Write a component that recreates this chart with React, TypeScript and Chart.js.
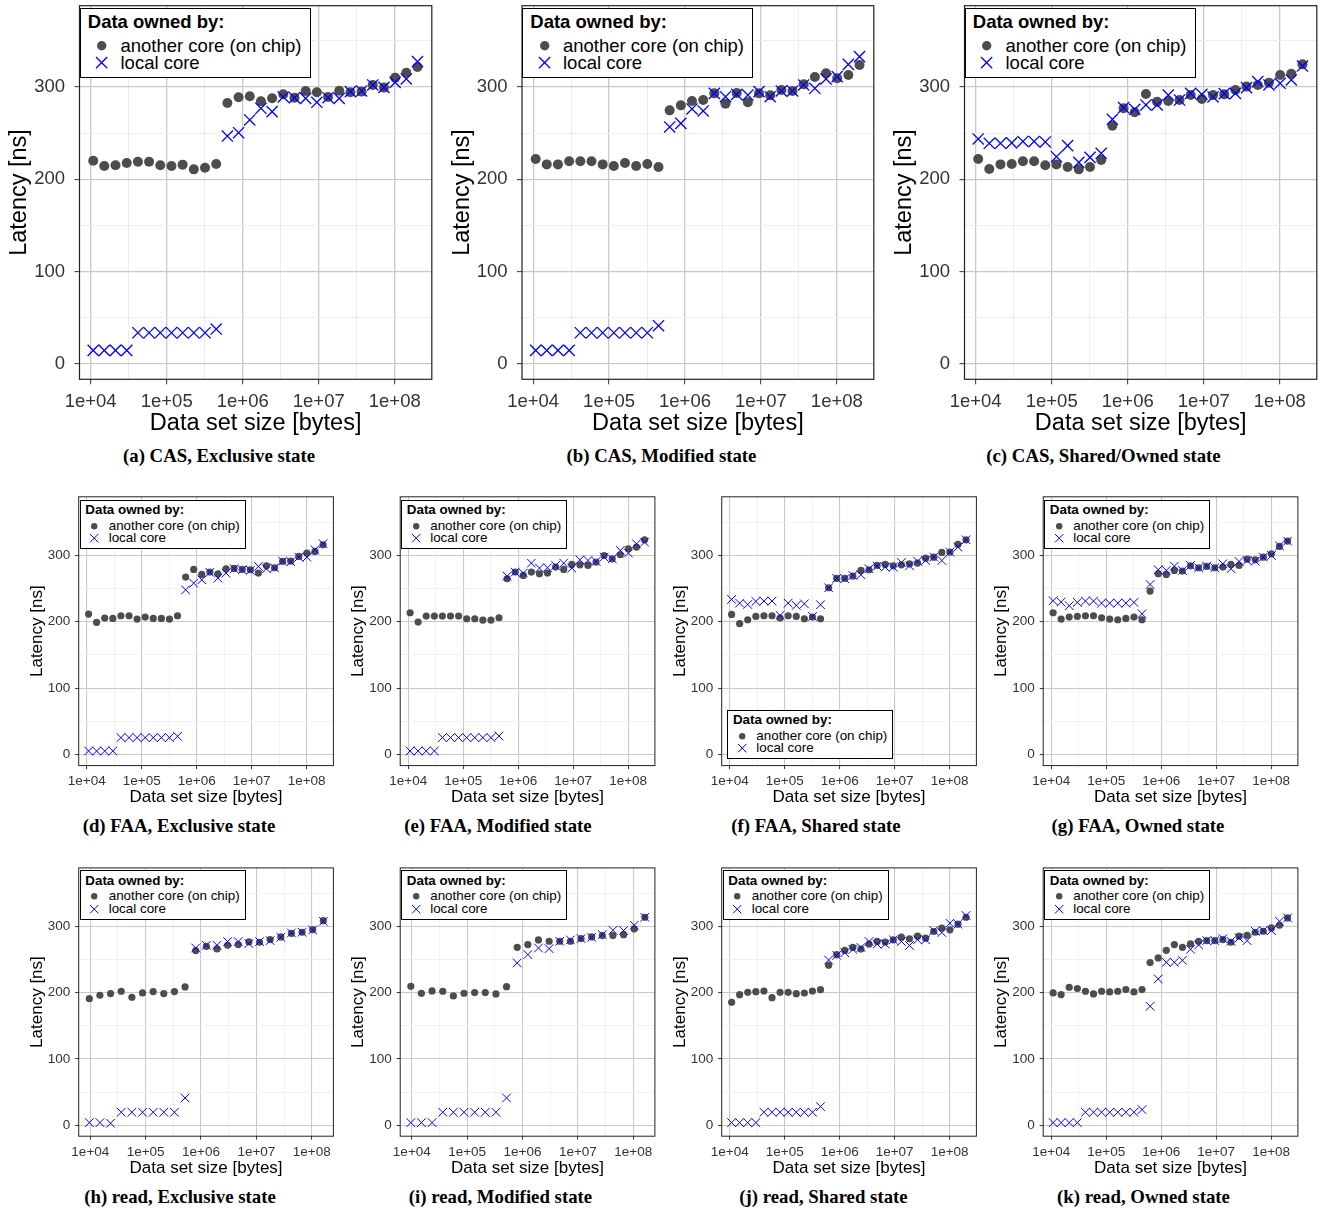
import React, { useEffect, useRef } from 'react';
import { Chart, registerables } from 'chart.js';

Chart.register(...registerables);

const FONT = "'Liberation Sans', Arial, Helvetica, sans-serif";
const SERIF = "'Liberation Serif', 'Times New Roman', serif";

// ---------------- data ----------------
// data set sizes (bytes), x positions read from the log axis
const sizes30 = [10800, 15100, 21200, 29800, 41800, 58700, 82300, 115500, 162100, 227400, 319200, 447800, 628300, 881700, 1237000, 1736000, 2435000, 3417000, 4795000, 6728000, 9441000, 13250000, 18590000, 26080000, 36590000, 51350000, 72050000, 101100000, 141800000, 199000000];
const sizes23 = [9600, 14900, 23200, 36200, 56300, 87700, 136500, 212500, 330800, 515000, 801700, 1248000, 1943000, 3024000, 4708000, 7328000, 11410000, 17760000, 27640000, 43030000, 66990000, 104300000, 162300000];

// (a) CAS, Exclusive
const casExclusiveOther = [220.2, 214.4, 215.2, 217.7, 219.1, 219.1, 215.2, 214.4, 215.9, 210.8, 212.6, 216.6, 282.7, 288.8, 289.9, 284.5, 287.7, 292.1, 288.4, 295.7, 294.2, 289.2, 296.0, 294.2, 295.0, 302.2, 299.3, 310.1, 315.5, 321.7];
const casExclusiveLocal = [14.8, 14.8, 14.8, 14.8, 33.9, 33.9, 33.9, 33.9, 33.9, 33.9, 33.9, 37.9, 246.9, 250.5, 264.3, 276.9, 273.3, 289.2, 288.4, 287.7, 283.4, 288.4, 287.7, 295.0, 295.7, 302.2, 299.6, 305.0, 308.7, 327.4];
// (b) CAS, Modified
const casModifiedOther = [222.0, 216.2, 216.2, 219.5, 219.5, 219.5, 216.2, 214.4, 217.7, 214.4, 216.6, 213.4, 274.7, 280.1, 284.8, 285.9, 293.1, 281.9, 293.5, 283.4, 293.1, 291.0, 296.8, 295.7, 302.9, 310.8, 314.8, 309.4, 313.0, 323.8];
const casModifiedLocal = [14.8, 14.8, 14.8, 14.8, 33.9, 33.9, 33.9, 33.9, 33.9, 33.9, 33.9, 41.5, 256.7, 260.6, 276.2, 274.0, 293.1, 289.5, 292.0, 291.3, 295.0, 289.5, 295.7, 295.7, 302.2, 298.6, 308.7, 311.2, 324.5, 332.9];
// (c) CAS, Shared/Owned
const casSharedOther = [222.0, 211.2, 216.2, 216.6, 219.5, 219.5, 215.2, 216.2, 213.4, 210.8, 213.4, 220.9, 258.1, 276.9, 272.6, 292.4, 284.1, 284.8, 285.9, 291.3, 287.0, 291.3, 292.0, 296.8, 300.4, 302.2, 304.7, 313.0, 314.4, 324.5];
const casSharedLocal = [243.7, 239.0, 239.0, 239.5, 241.0, 241.0, 240.5, 224.5, 236.5, 218.4, 223.8, 228.2, 265.0, 277.6, 275.8, 280.5, 280.5, 291.3, 285.9, 293.1, 292.0, 289.2, 292.8, 293.1, 299.3, 305.8, 302.2, 304.0, 307.6, 322.7];
// (d) FAA, Exclusive
const faaExclusiveOther = [211.5, 199.0, 205.5, 205.0, 209.0, 209.0, 204.0, 207.0, 205.0, 205.0, 204.0, 209.0, 267.2, 278.7, 271.2, 274.7, 272.2, 279.7, 280.2, 278.7, 278.2, 273.2, 284.2, 281.2, 290.7, 291.2, 298.2, 303.3, 305.8, 315.8];
const faaExclusiveLocal = [5.5, 5.5, 5.5, 5.5, 25.6, 25.6, 25.6, 25.6, 25.6, 25.6, 25.6, 27.6, 248.0, 258.0, 263.0, 274.2, 265.7, 273.2, 279.7, 278.2, 277.2, 283.2, 279.7, 281.2, 291.2, 290.2, 297.2, 297.2, 308.3, 317.3];
// (e) FAA, Modified
const faaModifiedOther = [213.5, 199.5, 208.5, 208.5, 208.5, 208.5, 208.5, 204.5, 204.5, 202.5, 202.5, 206.0, 264.7, 274.7, 269.7, 274.7, 272.2, 273.2, 282.2, 278.7, 286.2, 285.7, 284.7, 289.7, 299.7, 294.7, 300.8, 309.8, 312.3, 323.3];
const faaModifiedLocal = [5.5, 5.5, 5.5, 5.5, 25.6, 25.6, 25.6, 25.6, 25.6, 25.6, 25.6, 28.0, 268.7, 274.7, 273.2, 288.2, 280.7, 281.2, 284.7, 288.2, 280.7, 293.2, 292.2, 290.7, 297.2, 294.7, 307.3, 303.3, 317.3, 319.8];
// (f) FAA, Shared
const faaSharedOther = [211.0, 197.0, 203.0, 208.0, 209.0, 209.0, 205.5, 209.0, 208.0, 204.5, 207.0, 204.5, 251.1, 265.2, 265.2, 268.7, 277.2, 278.2, 284.7, 286.2, 284.2, 285.7, 287.2, 288.2, 295.7, 297.2, 304.3, 304.8, 316.3, 323.3];
const faaSharedLocal = [233.6, 228.0, 226.0, 230.6, 231.1, 231.1, 209.5, 228.0, 224.6, 227.0, 208.0, 225.6, 251.1, 265.2, 264.7, 269.7, 270.7, 279.7, 283.7, 282.2, 282.2, 289.2, 284.2, 291.2, 292.2, 297.2, 292.2, 304.8, 312.3, 323.3];
// (g) FAA, Owned
const faaOwnedOther = [213.5, 204.0, 207.0, 208.0, 209.0, 209.0, 206.0, 204.0, 203.0, 205.0, 207.0, 203.0, 246.1, 272.2, 271.2, 277.2, 276.2, 284.2, 281.2, 283.2, 281.2, 282.2, 286.2, 284.7, 294.2, 293.2, 297.2, 302.3, 313.3, 321.3];
const faaOwnedLocal = [231.6, 229.6, 224.1, 229.1, 231.1, 231.1, 228.0, 228.0, 228.0, 228.0, 229.1, 212.0, 256.1, 278.2, 277.2, 283.7, 277.2, 284.7, 281.2, 283.7, 281.2, 287.2, 279.7, 290.7, 292.2, 291.2, 297.2, 299.7, 314.3, 321.3];
// (h) read, Exclusive
const readExclusiveOther = [190.9, 196.0, 198.5, 202.0, 193.0, 199.5, 201.5, 198.5, 201.5, 208.5, 263.3, 269.8, 265.8, 271.4, 272.4, 276.4, 275.9, 279.9, 284.0, 289.4, 291.0, 295.0, 308.5];
const readExclusiveLocal = [4.0, 4.0, 3.0, 19.6, 19.6, 19.6, 19.6, 19.6, 19.6, 41.2, 267.3, 271.4, 271.4, 276.9, 276.9, 273.9, 276.9, 278.4, 283.4, 289.9, 291.0, 294.5, 307.5];
// (i) read, Modified
const readModifiedOther = [209.5, 199.0, 202.5, 202.0, 195.0, 199.0, 200.0, 200.0, 198.0, 209.0, 268.3, 272.4, 279.4, 277.4, 277.4, 277.4, 281.4, 284.0, 286.0, 286.0, 287.4, 296.0, 313.6];
const readModifiedLocal = [4.0, 4.0, 4.0, 19.6, 19.6, 19.6, 19.6, 19.6, 19.6, 41.2, 244.7, 257.3, 267.3, 266.3, 277.4, 279.4, 281.4, 283.4, 287.4, 294.0, 293.5, 301.5, 313.6];
// (j) read, Shared
const readSharedOther = [185.4, 196.9, 200.4, 201.4, 202.4, 192.4, 200.4, 200.4, 198.4, 199.4, 202.4, 204.4, 241.1, 257.1, 263.6, 268.1, 265.6, 273.1, 277.1, 276.1, 279.6, 283.6, 281.1, 285.1, 282.1, 292.1, 297.1, 294.6, 303.1, 313.6];
const readSharedLocal = [4.0, 4.0, 4.0, 4.0, 19.6, 19.6, 19.6, 19.6, 19.6, 19.6, 19.6, 28.1, 249.1, 256.1, 260.1, 265.1, 268.1, 277.1, 273.1, 273.1, 279.6, 277.1, 271.1, 279.6, 279.6, 293.6, 290.6, 304.6, 303.1, 316.1];
// (k) read, Owned
const readOwnedOther = [199.5, 197.0, 208.1, 206.1, 202.0, 198.0, 202.0, 201.0, 202.0, 204.5, 201.0, 204.5, 245.2, 252.3, 263.8, 272.4, 268.3, 273.4, 277.4, 278.4, 278.4, 279.9, 275.9, 285.0, 286.4, 291.0, 292.5, 297.5, 301.5, 312.6];
const readOwnedLocal = [4.0, 4.0, 4.0, 4.0, 19.6, 19.6, 19.6, 19.6, 19.6, 19.6, 19.6, 23.6, 179.4, 220.6, 245.7, 245.7, 248.7, 265.3, 271.9, 278.4, 278.4, 281.4, 277.4, 282.4, 278.4, 292.5, 293.5, 293.5, 307.5, 312.6];

const seriesNames = ['another core (on chip)', 'local core'];
const legendTitle = 'Data owned by:';
const xTitle = 'Data set size [bytes]';
const yTitle = 'Latency [ns]';
const xMajorTicks = [1e4, 1e5, 1e6, 1e7, 1e8];
const xTickLabels = ['1e+04', '1e+05', '1e+06', '1e+07', '1e+08'];
const xMinorTicks = [3162, 31623, 316228, 3162278, 31622777, 316227766];
const yMajorTicks = [0, 100, 200, 300];
const yTickLabels = ['0', '100', '200', '300'];
const yMinorTicks = [50, 150, 250, 350];
const yRange = [-16.5, 388];

// ---------------- styles ----------------
type LegendStyle = {
  w: number; h: number; font: number; titleX: number; titleY: number; item1Y: number; item2Y: number;
  symX: number; textX: number; circleR: number; crossHalf: number; crossW: number; border: number;
};
type RowStyle = {
  tickFont: number; titleFont: number; tickLen: number; yTickPad: number; xTickPad: number;
  circleR: number; crossR: number; crossW: number; gridMajorW: number; gridMinorW: number; frameW: number;
  lg: LegendStyle;
};

const TOP: RowStyle = {
  tickFont: 18.5, titleFont: 23.5, tickLen: 5, yTickPad: 9.5, xTickPad: 7,
  circleR: 5, crossR: 7.9, crossW: 1.3, gridMajorW: 1.3, gridMinorW: 1, frameW: 1.2,
  lg: { w: 231, h: 69.4, font: 18.5, titleX: 8.3, titleY: 14, item1Y: 37.7, item2Y: 55, symX: 22.3, textX: 41, circleR: 4.7, crossHalf: 5.6, crossW: 1.3, border: 1.2 },
};
const SMALL: RowStyle = {
  tickFont: 13.5, titleFont: 17, tickLen: 3.5, yTickPad: 5, xTickPad: 4,
  circleR: 3.6, crossR: 6.1, crossW: 1, gridMajorW: 1.1, gridMinorW: 0.8, frameW: 1,
  lg: { w: 166, h: 49.6, font: 13.4, titleX: 5.6, titleY: 10.8, item1Y: 26.2, item2Y: 38.5, symX: 15, textX: 29, circleR: 3.2, crossHalf: 4.2, crossW: 1, border: 1 },
};

type Panel = {
  key: string; caption: string; sizes: number[]; other: number[]; local: number[];
  xMinLog: number; xMaxLog: number; st: RowStyle;
  plotL: number; plotT: number; plotW: number; plotH: number;
  yTitleX: number; xTitleY: number; capX: number; capY: number;
  legDX: number; legDY: number;
};

const X30 = [3.853, 8.487];
const X23 = [3.790, 8.392];

const topBase = { st: TOP, plotT: 5.7, plotW: 353, plotH: 373.6, xTitleY: 424, capY: 456, legDX: 0.2, legDY: 2.6, xMinLog: X30[0], xMaxLog: X30[1], sizes: sizes30 };
const midBase = { st: SMALL, plotT: 496.8, plotW: 254.7, plotH: 268.8, xTitleY: 797.5, capY: 826, legDX: 1, legDY: 2.9 };
const botBase = { st: SMALL, plotT: 867.9, plotW: 254.7, plotH: 268.3, xTitleY: 1168, capY: 1197, legDX: 1, legDY: 2.4 };

const panels: Panel[] = [
  { ...topBase, key: 'a', caption: '(a) CAS, Exclusive state', other: casExclusiveOther, local: casExclusiveLocal, plotL: 79.5, yTitleX: 20, capX: 219 },
  { ...topBase, key: 'b', caption: '(b) CAS, Modified state', other: casModifiedOther, local: casModifiedLocal, plotL: 522, yTitleX: 462.5, capX: 661.5 },
  { ...topBase, key: 'c', caption: '(c) CAS, Shared/Owned state', other: casSharedOther, local: casSharedLocal, plotL: 964.5, yTitleX: 905, capX: 1103.5 },
  { ...midBase, key: 'd', caption: '(d) FAA, Exclusive state', other: faaExclusiveOther, local: faaExclusiveLocal, sizes: sizes30, xMinLog: X30[0], xMaxLog: X30[1], plotL: 78.7, yTitleX: 37, capX: 179 },
  { ...midBase, key: 'e', caption: '(e) FAA, Modified state', other: faaModifiedOther, local: faaModifiedLocal, sizes: sizes30, xMinLog: X30[0], xMaxLog: X30[1], plotL: 400.2, yTitleX: 358.5, capX: 498 },
  { ...midBase, key: 'f', caption: '(f) FAA, Shared state', other: faaSharedOther, local: faaSharedLocal, sizes: sizes30, xMinLog: X30[0], xMaxLog: X30[1], plotL: 721.7, yTitleX: 680, capX: 816, legDX: 5.6, legDY: 212.9 },
  { ...midBase, key: 'g', caption: '(g) FAA, Owned state', other: faaOwnedOther, local: faaOwnedLocal, sizes: sizes30, xMinLog: X30[0], xMaxLog: X30[1], plotL: 1043.2, yTitleX: 1001.5, capX: 1138 },
  { ...botBase, key: 'h', caption: '(h) read, Exclusive state', other: readExclusiveOther, local: readExclusiveLocal, sizes: sizes23, xMinLog: X23[0], xMaxLog: X23[1], plotL: 78.7, yTitleX: 37, capX: 180 },
  { ...botBase, key: 'i', caption: '(i) read, Modified state', other: readModifiedOther, local: readModifiedLocal, sizes: sizes23, xMinLog: X23[0], xMaxLog: X23[1], plotL: 400.2, yTitleX: 358.5, capX: 500.5 },
  { ...botBase, key: 'j', caption: '(j) read, Shared state', other: readSharedOther, local: readSharedLocal, sizes: sizes30, xMinLog: X30[0], xMaxLog: X30[1], plotL: 721.7, yTitleX: 680, capX: 823.5 },
  { ...botBase, key: 'k', caption: '(k) read, Owned state', other: readOwnedOther, local: readOwnedLocal, sizes: sizes30, xMinLog: X30[0], xMaxLog: X30[1], plotL: 1043.2, yTitleX: 1001.5, capX: 1143.5 },
];

const GRID_MAJOR = '#c9c9c9';
const GRID_MINOR = '#ededed';
const TICK_COLOR = '#333333';
const CIRCLE_COLOR = '#4d4d4d';
const CROSS_COLOR = '#0000ff';

const framePlugin = {
  id: 'frame',
  afterDatasetsDraw(chart: any, _args: any, opts: any) {
    const { ctx, chartArea } = chart;
    ctx.save();
    ctx.strokeStyle = opts.color || '#222';
    ctx.lineWidth = opts.width || 1;
    ctx.strokeRect(chartArea.left, chartArea.top, chartArea.right - chartArea.left, chartArea.bottom - chartArea.top);
    ctx.restore();
  },
};

const isMajorX = (v: number) => xMajorTicks.indexOf(v) >= 0;
const isMajorY = (v: number) => yMajorTicks.indexOf(v) >= 0;

function PanelChart({ p }: { p: Panel }) {
  const ref = useRef<HTMLCanvasElement>(null);
  const st = p.st;
  const lh = st.titleFont * 1.2;
  const yTitleLeft = p.yTitleX - lh / 2;
  const cLeft = Math.floor(yTitleLeft);
  const padLeft = yTitleLeft - cLeft;
  const cTop = Math.floor(p.plotT) - 25;
  const padTop = p.plotT - cTop;
  const plotR = p.plotL + p.plotW;
  const plotB = p.plotT + p.plotH;
  const cRight = Math.ceil(plotR) + 8;
  const padRight = cRight - plotR;
  const xTitleBottom = p.xTitleY + lh / 2;
  const cBottom = Math.ceil(xTitleBottom);
  const padBottom = cBottom - xTitleBottom;
  const yW = p.plotL - cLeft - padLeft;
  const xH = xTitleBottom - plotB;
  const cw = cRight - cLeft;
  const ch = cBottom - cTop;

  useEffect(() => {
    if (!ref.current) return;
    const xMin = Math.pow(10, p.xMinLog);
    const xMax = Math.pow(10, p.xMaxLog);
    const xTicks = [...xMajorTicks, ...xMinorTicks].filter((v) => v >= xMin && v <= xMax).sort((a, b) => a - b);
    const yTicks = [...yMajorTicks, ...yMinorTicks].filter((v) => v >= yRange[0] && v <= yRange[1]).sort((a, b) => a - b);
    const chart = new Chart(ref.current, {
      type: 'scatter',
      data: {
        datasets: [
          {
            label: seriesNames[1],
            data: p.sizes.map((x, i) => ({ x, y: p.local[i] })),
            pointStyle: 'crossRot',
            pointRadius: st.crossR,
            borderColor: CROSS_COLOR,
            backgroundColor: CROSS_COLOR,
            borderWidth: st.crossW,
            order: 0,
          },
          {
            label: seriesNames[0],
            data: p.sizes.map((x, i) => ({ x, y: p.other[i] })),
            pointStyle: 'circle',
            pointRadius: st.circleR,
            backgroundColor: CIRCLE_COLOR,
            borderWidth: 0,
            order: 1,
          },
        ],
      },
      options: {
        responsive: false,
        animation: false,
        devicePixelRatio: 1,
        events: [],
        layout: { padding: { left: padLeft, top: padTop, right: padRight, bottom: padBottom } },
        plugins: {
          legend: { display: false },
          tooltip: { enabled: false },
          frame: { width: st.frameW, color: '#222222' },
        } as any,
        scales: {
          x: {
            type: 'logarithmic',
            bounds: 'data',
            min: xMin,
            max: xMax,
            afterBuildTicks: (s: any) => { s.ticks = xTicks.map((v) => ({ value: v })); },
            afterFit: (s: any) => { s.height = xH; },
            ticks: {
              autoSkip: false, maxRotation: 0, minRotation: 0,
              padding: st.xTickPad,
              font: { size: st.tickFont, family: FONT },
              color: TICK_COLOR,
              callback: (v: any) => { const i = xMajorTicks.indexOf(Number(v)); return i >= 0 ? xTickLabels[i] : ''; },
            },
            grid: {
              color: (c: any) => (c.tick && isMajorX(c.tick.value) ? GRID_MAJOR : GRID_MINOR),
              lineWidth: (c: any) => (c.tick && isMajorX(c.tick.value) ? st.gridMajorW : st.gridMinorW),
              tickColor: (c: any) => (c.tick && isMajorX(c.tick.value) ? TICK_COLOR : 'rgba(0,0,0,0)'),
              tickWidth: 1,
              tickLength: st.tickLen,
              drawTicks: true,
            },
            border: { display: false },
            title: { display: true, text: xTitle, color: '#000', font: { size: st.titleFont, family: FONT }, padding: 0 },
          } as any,
          y: {
            type: 'linear',
            bounds: 'data',
            min: yRange[0],
            max: yRange[1],
            afterBuildTicks: (s: any) => { s.ticks = yTicks.map((v) => ({ value: v })); },
            afterFit: (s: any) => { s.width = yW; },
            ticks: {
              autoSkip: false,
              padding: st.yTickPad,
              font: { size: st.tickFont, family: FONT },
              color: TICK_COLOR,
              callback: (v: any) => { const i = yMajorTicks.indexOf(Number(v)); return i >= 0 ? yTickLabels[i] : ''; },
            },
            grid: {
              color: (c: any) => (c.tick && isMajorY(c.tick.value) ? GRID_MAJOR : GRID_MINOR),
              lineWidth: (c: any) => (c.tick && isMajorY(c.tick.value) ? st.gridMajorW : st.gridMinorW),
              tickColor: (c: any) => (c.tick && isMajorY(c.tick.value) ? TICK_COLOR : 'rgba(0,0,0,0)'),
              tickWidth: 1,
              tickLength: st.tickLen,
              drawTicks: true,
            },
            border: { display: false },
            title: { display: true, text: yTitle, color: '#000', font: { size: st.titleFont, family: FONT }, padding: 0 },
          } as any,
        },
      },
      plugins: [framePlugin as any],
    });
    return () => chart.destroy();
  }, []);

  return (
    <canvas
      ref={ref}
      width={cw}
      height={ch}
      style={{ position: 'absolute', left: cLeft, top: cTop, width: cw, height: ch }}
    />
  );
}

function Legend({ p }: { p: Panel }) {
  const L = p.st.lg;
  const b = L.border;
  const lh = L.font * 1.2;
  const r = L.circleR;
  const h = L.crossHalf;
  return (
    <div
      style={{
        position: 'absolute', left: p.plotL + p.legDX, top: p.plotT + p.legDY, width: L.w, height: L.h,
        border: `${b}px solid #000`, boxSizing: 'border-box', background: '#fff', fontFamily: FONT, color: '#000',
      }}
    >
      <div style={{ position: 'absolute', left: L.titleX - b, top: L.titleY - lh / 2 - b, fontSize: L.font, lineHeight: `${lh}px`, fontWeight: 'bold', whiteSpace: 'nowrap' }}>{legendTitle}</div>
      <svg width={2 * r + 2} height={2 * r + 2} style={{ position: 'absolute', left: L.symX - r - 1 - b, top: L.item1Y - r - 1 - b }}>
        <circle cx={r + 1} cy={r + 1} r={r} fill={CIRCLE_COLOR} />
      </svg>
      <div style={{ position: 'absolute', left: L.textX - b, top: L.item1Y - lh / 2 - b, fontSize: L.font, lineHeight: `${lh}px`, whiteSpace: 'nowrap' }}>{seriesNames[0]}</div>
      <svg width={2 * h + 2} height={2 * h + 2} style={{ position: 'absolute', left: L.symX - h - 1 - b, top: L.item2Y - h - 1 - b }}>
        <line x1={1} y1={1} x2={2 * h + 1} y2={2 * h + 1} stroke={CROSS_COLOR} strokeWidth={L.crossW} />
        <line x1={2 * h + 1} y1={1} x2={1} y2={2 * h + 1} stroke={CROSS_COLOR} strokeWidth={L.crossW} />
      </svg>
      <div style={{ position: 'absolute', left: L.textX - b, top: L.item2Y - lh / 2 - b, fontSize: L.font, lineHeight: `${lh}px`, whiteSpace: 'nowrap' }}>{seriesNames[1]}</div>
    </div>
  );
}

function Caption({ p }: { p: Panel }) {
  const fs = 18.8;
  const lh = fs * 1.2;
  return (
    <div
      style={{
        position: 'absolute', left: p.capX - 200, top: p.capY - lh / 2, width: 400, textAlign: 'center',
        fontFamily: SERIF, fontWeight: 'bold', fontSize: fs, lineHeight: `${lh}px`, color: '#000', whiteSpace: 'nowrap',
      }}
    >
      {p.caption}
    </div>
  );
}

export default function App() {
  return (
    <div style={{ position: 'absolute', left: 0, top: 0, width: 1323, height: 1209, background: '#fff', overflow: 'hidden' }}>
      {panels.map((p) => (
        <React.Fragment key={p.key}>
          <PanelChart p={p} />
          <Legend p={p} />
          <Caption p={p} />
        </React.Fragment>
      ))}
    </div>
  );
}
